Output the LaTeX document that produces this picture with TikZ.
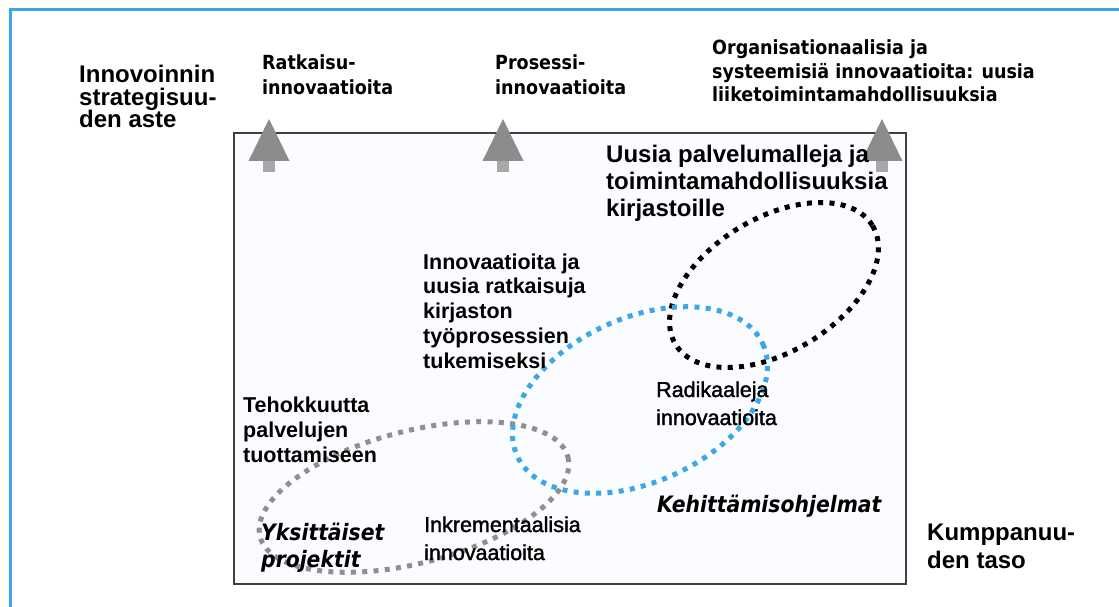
\documentclass[tikz,border=0pt]{standalone}
\usepackage{fontspec}
\setmainfont{Liberation Sans}
\newfontfamily\tah{DejaVu Sans}[FakeStretch=0.9]
\newfontfamily\semib{Liberation Sans}[FakeBold=1.6]
\newcommand\stk[2]{\vtop{\baselineskip=#1pt\relax\lineskiplimit=-100pt\relax #2}}
\definecolor{framblue}{HTML}{3BA7E5}
\definecolor{dotblue}{HTML}{3BA7E5}
\definecolor{dotgray}{HTML}{8F8F8F}
\definecolor{headgray}{HTML}{8C8C8C}
\definecolor{stemgray}{HTML}{A8A8A8}
\definecolor{boxfill}{HTML}{FBFCFF}
\definecolor{boxline}{HTML}{404040}
\tikzset{
  txt/.style={inner sep=0pt, anchor=base west},
  bold/.style={txt, font=\bfseries},
  reg/.style={txt, font=\semib},
  tahb/.style={txt, font=\tah\bfseries},
  tahi/.style={txt, font=\tah\bfseries\itshape},
  dots/.style={line width=5pt, dash pattern=on 5pt off 6.3pt},
  uparrow/.pic={
    \fill[stemgray] (-6,41) rectangle (6,53);
    \fill[headgray] (0,0) -- (20.5,42) -- (-20.5,42) -- cycle;
  }
}
\begin{document}
\begin{tikzpicture}[x=1pt,y=-1pt]
\clip (0,0) rectangle (1119,607);
\fill[white] (0,0) rectangle (1119,607);
% outer frame
\draw[framblue, line width=3pt] (10,10) rectangle (1140,640);
% inner box
\draw[boxline, line width=2pt, fill=boxfill] (234,133) rectangle (906,584);
% ellipses
\draw[dots, dotgray] [rotate around={14.5:(414,497)}] (414,497) ellipse [x radius=159, y radius=66];
\draw[dots, black] [rotate around={31:(774,285)}] (774,285) ellipse [x radius=115, y radius=67];
\draw[dots, dotblue] [rotate around={24.5:(640,400)}] (640,400) ellipse [x radius=135, y radius=82];
% arrows
\pic at (269,119) {uparrow};
\pic at (503,119) {uparrow};
\pic at (882,119) {uparrow};
% texts
\node[bold, font=\bfseries\fontsize{24pt}{24pt}\selectfont] (axisy) at (79,83)
  {\stk{22.5}{\hbox{Innovoinnin}\hbox{strategisuu-}\hbox{den aste}}};
\node[tahb, font=\tah\bfseries\fontsize{19.5pt}{19.5pt}\selectfont] (ratk) at (262,70)
  {\stk{25}{\hbox{Ratkaisu-}\hbox{innovaatioita}}};
\node[tahb, font=\tah\bfseries\fontsize{19.5pt}{19.5pt}\selectfont] (pros) at (495,70)
  {\stk{25}{\hbox{Prosessi-}\hbox{innovaatioita}}};
\node[tahb, font=\tah\bfseries\fontsize{19.5pt}{19.5pt}\selectfont] (org) at (712,55)
  {\stk{23.5}{\hbox{Organisationaalisia ja}\hbox{systeemisiä innovaatioita: uusia}\hbox{liiketoimintamahdollisuuksia}}};
\node[bold, font=\bfseries\fontsize{24pt}{24pt}\selectfont] (uusia) at (606,163)
  {\stk{27}{\hbox{Uusia palvelumalleja ja}\hbox{toimintamahdollisuuksia}\hbox{kirjastoille}}};
\node[bold, font=\bfseries\fontsize{21.5pt}{21.5pt}\selectfont] (innov) at (423,269)
  {\stk{24.8}{\hbox{Innovaatioita ja}\hbox{uusia ratkaisuja}\hbox{kirjaston}\hbox{työprosessien}\hbox{tukemiseksi}}};
\node[bold, font=\bfseries\fontsize{21.5pt}{21.5pt}\selectfont] (teho) at (243,412)
  {\stk{25}{\hbox{Tehokkuutta}\hbox{palvelujen}\hbox{tuottamiseen}}};
\node[reg, font=\semib\fontsize{21.5pt}{21.5pt}\selectfont] (radi) at (656,397)
  {\stk{28}{\hbox{Radikaaleja}\hbox{innovaatioita}}};
\node[reg, font=\semib\fontsize{21.5pt}{21.5pt}\selectfont] (inkr) at (424,532)
  {\stk{28}{\hbox{Inkrementaalisia}\hbox{innovaatioita}}};
\node[tahi, font=\tah\bfseries\itshape\fontsize{22.6pt}{22.6pt}\selectfont] (yks) at (261,540)
  {\stk{27}{\hbox{Yksittäiset}\hbox{projektit}}};
\node[tahi, font=\tah\bfseries\itshape\fontsize{22.6pt}{22.6pt}\selectfont] (keh) at (657,512)
  {Kehittämisohjelmat};
\node[bold, font=\bfseries\fontsize{24pt}{24pt}\selectfont] (kump) at (927,540)
  {\stk{28}{\hbox{Kumppanuu-}\hbox{den taso}}};
\end{tikzpicture}
\end{document}
